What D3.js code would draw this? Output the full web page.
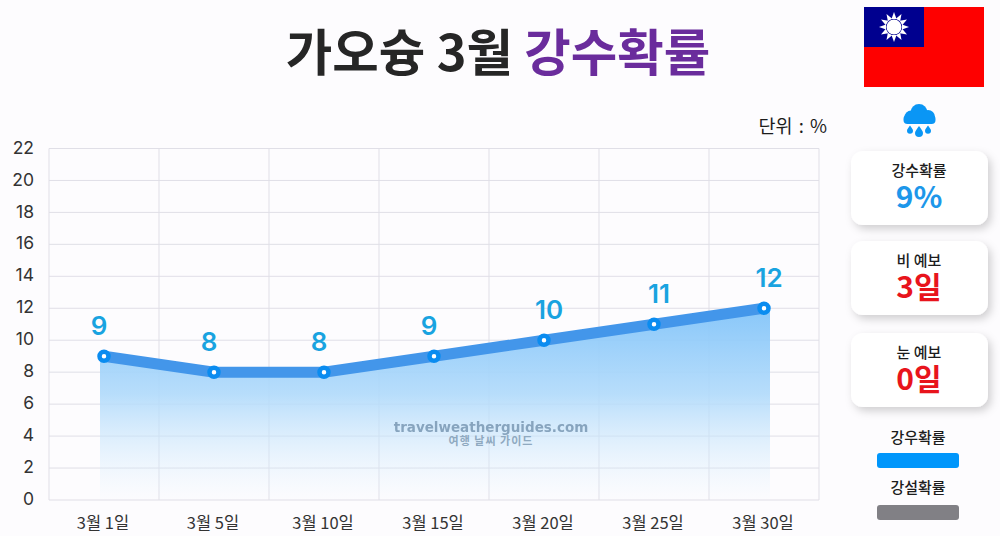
<!DOCTYPE html>
<html>
<head>
<meta charset="utf-8">
<script src="https://cdn.jsdelivr.net/npm/d3@7"></script>
<style>
html, body { margin: 0; padding: 0; background: #fdfcfe; overflow: hidden; }
text { font-family: "Noto Sans CJK KR", "Noto Sans", sans-serif; }
</style>
</head>
<body>
<div id="chart"></div>
<script>
var days = ["3월 1일", "3월 5일", "3월 10일", "3월 15일", "3월 20일", "3월 25일", "3월 30일"];
var rainChance = [9, 8, 8, 9, 10, 11, 12];
var yTicks = [0, 2, 4, 6, 8, 10, 12, 14, 16, 18, 20, 22];
var cards = [
    { title: "강수확률", value: "9%", color: "#1d97ea", top: 151 },
    { title: "비 예보", value: "3일", color: "#e8141c", top: 241 },
    { title: "눈 예보", value: "0일", color: "#e8141c", top: 333 }
];
var legendItems = [
    { label: "강우확률", color: "#0096fb", labelY: 443, barY: 453 },
    { label: "강설확률", color: "#818085", labelY: 493, barY: 505 }
];

var width = 1000, height = 536;
var svg = d3.select("#chart").append("svg")
    .attr("width", width)
    .attr("height", height);

var defs = svg.append("defs");

var grad = defs.append("linearGradient")
    .attr("id", "areaFill")
    .attr("x1", 0).attr("x2", 0).attr("y1", 0).attr("y2", 1);
grad.append("stop").attr("offset", "0%").attr("stop-color", "#82c4f9").attr("stop-opacity", 0.95);
grad.append("stop").attr("offset", "45%").attr("stop-color", "#b0dafb").attr("stop-opacity", 0.9);
grad.append("stop").attr("offset", "100%").attr("stop-color", "#e0f1fd").attr("stop-opacity", 0.05);

var shadow = defs.append("filter")
    .attr("id", "cardShadow")
    .attr("x", "-20%").attr("y", "-20%").attr("width", "140%").attr("height", "150%");
shadow.append("feDropShadow")
    .attr("dx", 3).attr("dy", 4).attr("stdDeviation", 4)
    .attr("flood-color", "#000").attr("flood-opacity", 0.18);

// title
var title = svg.append("text")
    .attr("x", 498)
    .attr("y", 71)
    .attr("text-anchor", "middle")
    .style("font-size", "50.5px")
    .style("font-weight", 700)
    .attr("fill", "#262626");
title.append("tspan").text("가오슝 3월 ");
title.append("tspan").attr("fill", "#6a2c9c").text("강수확률");

svg.append("text")
    .attr("x", 827)
    .attr("y", 133)
    .attr("text-anchor", "end")
    .style("font-size", "18.5px")
    .style("word-spacing", "2px")
    .attr("fill", "#1c1c1c")
    .text("단위 : %");

// scales
var plot = { left: 49, right: 819, top: 148.5, bottom: 500 };

var x = d3.scaleBand()
    .domain(days)
    .range([plot.left, plot.right]);

var y = d3.scaleLinear()
    .domain([0, 22])
    .range([plot.bottom, plot.top]);

function cx(i) { return x(days[i]) + x.bandwidth() / 2; }

// grid
svg.append("g")
    .selectAll("line")
    .data(yTicks)
    .enter().append("line")
    .attr("x1", plot.left)
    .attr("x2", plot.right)
    .attr("y1", function(d) { return y(d); })
    .attr("y2", function(d) { return y(d); })
    .attr("stroke", "#dddbe4")
    .attr("stroke-width", 0.9);

svg.append("g")
    .selectAll("line")
    .data(days.concat(["end"]))
    .enter().append("line")
    .attr("x1", function(d, i) { return plot.left + i * x.bandwidth(); })
    .attr("x2", function(d, i) { return plot.left + i * x.bandwidth(); })
    .attr("y1", plot.top)
    .attr("y2", plot.bottom)
    .attr("stroke", "#e0dfe7")
    .attr("stroke-width", 1);

// area under the line
var area = d3.area()
    .x(function(d, i) {
        if (i == 0) return cx(i) - 4;
        if (i == days.length - 1) return cx(i) + 6;
        return cx(i);
    })
    .y0(y(0))
    .y1(function(d) { return y(d); });

svg.append("path")
    .datum(rainChance)
    .attr("d", area)
    .attr("fill", "url(#areaFill)");

// line
var line = d3.line()
    .x(function(d, i) { return cx(i); })
    .y(function(d) { return y(d); });

svg.append("path")
    .datum(rainChance)
    .attr("d", line)
    .attr("fill", "none")
    .attr("stroke", "#4396ea")
    .attr("stroke-width", 11);

// points
svg.append("g")
    .selectAll("circle")
    .data(rainChance)
    .enter().append("circle")
    .attr("cx", function(d, i) { return cx(i); })
    .attr("cy", function(d) { return y(d); })
    .attr("r", 4.5)
    .attr("fill", "#fff")
    .attr("stroke", "#0a8cf0")
    .attr("stroke-width", 4.5);

// value labels
svg.append("g")
    .selectAll("text")
    .data(rainChance)
    .enter().append("text")
    .attr("x", function(d, i) { return cx(i) + (d >= 10 ? 5 : -5); })
    .attr("y", function(d) { return y(d) - 21; })
    .attr("text-anchor", "middle")
    .style("font-family", "Inter, sans-serif")
    .style("font-size", "26px")
    .style("font-weight", 600)
    .attr("fill", "#19a3e0")
    .text(function(d) { return d; });

// axes
var yAxis = d3.axisLeft(y).tickValues(yTicks).tickSize(0).tickPadding(15);
var yG = svg.append("g")
    .attr("transform", "translate(49,-1)")
    .call(yAxis);
yG.select(".domain").remove();
yG.selectAll("text")
    .style("font-family", "Inter, sans-serif")
    .style("font-size", "17.5px")
    .attr("fill", "#333");

var xAxis = d3.axisBottom(x).tickSize(0).tickPadding(14);
var xG = svg.append("g")
    .attr("transform", "translate(-1,503)")
    .call(xAxis);
xG.select(".domain").remove();
xG.selectAll("text")
    .style("font-size", "16.5px")
    .attr("fill", "#333");

// watermark
svg.append("text")
    .attr("x", 491)
    .attr("y", 432)
    .attr("text-anchor", "middle")
    .style("font-family", "'DejaVu Sans', sans-serif")
    .style("font-size", "13.5px")
    .style("font-weight", 700)
    .attr("fill", "#7f9db8")
    .attr("opacity", 0.9)
    .text("travelweatherguides.com");
svg.append("text")
    .attr("x", 491)
    .attr("y", 445)
    .attr("text-anchor", "middle")
    .style("font-size", "11px")
    .style("font-weight", 700)
    .style("letter-spacing", "1px")
    .attr("fill", "#8fa9c0")
    .text("여행 날씨 가이드");

// flag
var flag = svg.append("g").attr("transform", "translate(864,7)");
flag.append("rect").attr("width", 120).attr("height", 80).attr("fill", "#fe0000");
flag.append("rect").attr("width", 60).attr("height", 40).attr("fill", "#00008f");
var sun = flag.append("g").attr("transform", "translate(30,20)");
sun.selectAll("path")
    .data(d3.range(12))
    .enter().append("path")
    .attr("d", "M-2.5,-8 L0,-15 L2.5,-8 Z")
    .attr("fill", "#fff")
    .attr("transform", function(d) { return "rotate(" + d * 30 + ")"; });
sun.append("circle").attr("r", 7.5).attr("fill", "#fff");

// rain icon
var icon = svg.append("g").attr("transform", "translate(919,-1)").attr("fill", "#0a96f5");
icon.append("circle").attr("cx", -8).attr("cy", 118).attr("r", 6.5);
icon.append("circle").attr("cx", 0).attr("cy", 113.5).attr("r", 8.5);
icon.append("circle").attr("cx", 9).attr("cy", 118).attr("r", 7);
icon.append("rect").attr("x", -15.5).attr("y", 116).attr("width", 32).attr("height", 9).attr("rx", 4);
icon.selectAll("path")
    .data([{ x: -9, y: 126.5, s: 0.75 }, { x: 0, y: 127, s: 1 }, { x: 9, y: 126.5, s: 0.75 }])
    .enter().append("path")
    .attr("d", "M0,0 C2,3 4,5 4,7 A4,4 0 1 1 -4,7 C-4,5 -2,3 0,0 Z")
    .attr("transform", function(d) { return "translate(" + d.x + "," + d.y + ") scale(" + d.s + ")"; });

// info cards
var card = svg.append("g")
    .selectAll("g")
    .data(cards)
    .enter().append("g")
    .attr("transform", function(d) { return "translate(851," + d.top + ")"; });
card.append("rect")
    .attr("width", 137)
    .attr("height", 74)
    .attr("rx", 12)
    .attr("fill", "#fff")
    .attr("filter", "url(#cardShadow)");
card.append("text")
    .attr("x", 68)
    .attr("y", 25)
    .attr("text-anchor", "middle")
    .style("font-size", "15px")
    .style("font-weight", 500)
    .attr("fill", "#1c1c1c")
    .text(function(d) { return d.title; });
card.append("text")
    .attr("x", 68)
    .attr("y", 57)
    .attr("text-anchor", "middle")
    .style("font-size", "30px")
    .style("font-weight", 700)
    .attr("fill", function(d) { return d.color; })
    .text(function(d) { return d.value; });

// legend
var legend = svg.append("g")
    .selectAll("g")
    .data(legendItems)
    .enter().append("g");
legend.append("text")
    .attr("x", 918)
    .attr("y", function(d) { return d.labelY; })
    .attr("text-anchor", "middle")
    .style("font-size", "15px")
    .style("font-weight", 500)
    .attr("fill", "#1c1c1c")
    .text(function(d) { return d.label; });
legend.append("rect")
    .attr("x", 877)
    .attr("y", function(d) { return d.barY; })
    .attr("width", 82)
    .attr("height", 15)
    .attr("rx", 3)
    .attr("fill", function(d) { return d.color; });
</script>
</body>
</html>
